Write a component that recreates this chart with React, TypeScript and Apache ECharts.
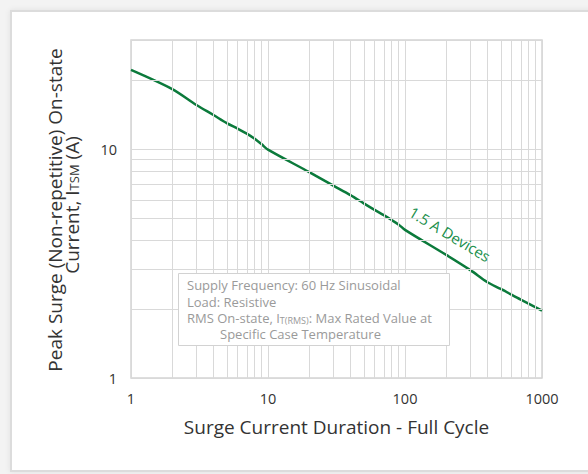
import React, { useEffect, useRef } from 'react';
import * as echarts from 'echarts';

const durationCycles = [1, 2, 3, 4, 5, 6, 7, 8, 9, 10, 20, 30, 40, 50, 60, 70, 80, 90, 100, 200, 300, 400, 500, 700, 1000];
const surgeCurrent = [22.2, 18.3, 15.6, 14.1, 13.0, 12.3, 11.7, 11.1, 10.5, 9.95, 7.94, 6.93, 6.3, 5.8, 5.43, 5.15, 4.9, 4.68, 4.44, 3.45, 2.96, 2.62, 2.45, 2.2, 1.97];
const xMinorGrid = [2, 3, 4, 5, 6, 7, 8, 9, 20, 30, 40, 50, 60, 70, 80, 90, 200, 300, 400, 500, 600, 700, 800, 900];
const yMinorGrid = [2, 3, 4, 5, 6, 7, 8, 9, 20];
const seriesLabel = '1.5 A Devices';
const xTitle = 'Surge Current Duration - Full Cycle';
const yTitleLines = ['Peak Surge (Non-repetitive) On-state', 'Current, I{sub|TSM} (A)'];
const noteLines = [
  'Supply Frequency: 60 Hz Sinusoidal',
  'Load: Resistive',
  'RMS On-state, I{sub|T(RMS)}: Max Rated Value at',
  'Specific Case Temperature',
];

const FONT = 'Open Sans';

const decadeFormatter = (v: number) => {
  const l = Math.log10(v);
  return Math.abs(l - Math.round(l)) < 1e-6 ? String(Math.round(v)) : '';
};

export default function App() {
  const ref = useRef<HTMLDivElement>(null);
  useEffect(() => {
    const chart = echarts.init(ref.current!, null, { renderer: 'svg' });
    const noteY = [285, 301.5, 318, 334];
    const noteX = [187, 187, 187, 220];
    const yTitleX = [55, 72];
    const yTitleY = [210, 205];
    chart.setOption({
      animation: false,
      textStyle: { fontFamily: FONT },
      grid: {
        left: 131,
        top: 40,
        right: 46,
        bottom: 96,
        show: true,
        borderColor: '#d4d4d4',
        borderWidth: 1.5,
        backgroundColor: 'transparent',
      },
      xAxis: {
        type: 'log',
        logBase: 10,
        min: 1,
        max: 1000,
        axisLine: { show: false },
        axisTick: { show: false },
        axisLabel: { fontSize: 14.5, color: '#333', margin: 13, formatter: decadeFormatter, fontFamily: FONT },
        splitLine: { show: true, lineStyle: { color: '#d9d9d9', width: 1 } },
        name: xTitle,
        nameLocation: 'middle',
        nameGap: 39,
        nameTextStyle: { fontSize: 19, color: '#333', fontFamily: FONT },
      },
      yAxis: {
        type: 'log',
        logBase: 10,
        min: 1,
        max: 30,
        axisLine: { show: false },
        axisTick: { show: false },
        axisLabel: { fontSize: 14.5, color: '#333', margin: 14, formatter: decadeFormatter, fontFamily: FONT },
        splitLine: { show: true, lineStyle: { color: '#d9d9d9', width: 1 } },
      },
      series: [
        {
          type: 'line',
          data: [],
          z: 1,
          silent: true,
          markLine: {
            silent: true,
            animation: false,
            symbol: ['none', 'none'],
            label: { show: false },
            emphasis: { disabled: true },
            lineStyle: { color: '#d9d9d9', width: 1, type: 'solid' },
            data: [
              ...xMinorGrid.map((v) => ({ xAxis: v })),
              ...yMinorGrid.map((v) => ({ yAxis: v })),
            ],
          },
        },
        {
          type: 'line',
          z: 3,
          data: durationCycles.map((x, i) => [x, surgeCurrent[i]]),
          smooth: 0.3,
          showSymbol: false,
          lineStyle: { color: '#0b7a3b', width: 2.5 },
        },
      ],
      graphic: [
        ...yTitleLines.map((t, i) => ({
          type: 'text',
          z: 11,
          x: yTitleX[i],
          y: yTitleY[i],
          rotation: Math.PI / 2,
          style: {
            text: t,
            fill: '#333',
            fontSize: 19,
            lineHeight: 16,
            fontFamily: FONT,
            align: 'center',
            verticalAlign: 'middle',
            rich: {
              sub: { fontSize: 13, lineHeight: 16, fill: '#333', fontFamily: FONT, verticalAlign: 'bottom', padding: [6, 0, 0, 0] },
            },
          },
        })),
        {
          type: 'rect',
          z: 10,
          shape: { x: 178.5, y: 273.5, width: 271, height: 72 },
          style: { fill: '#ffffff', stroke: '#d2d2d2', lineWidth: 1 },
        },
        ...noteLines.map((t, i) => ({
          type: 'text',
          z: 11,
          x: noteX[i],
          y: noteY[i],
          style: {
            text: t,
            fill: '#9a9a9a',
            fontSize: 13,
            lineHeight: 13,
            fontFamily: FONT,
            verticalAlign: 'middle',
            align: 'left',
            rich: {
              sub: { fontSize: 9, lineHeight: 9, fill: '#9a9a9a', fontFamily: FONT, verticalAlign: 'bottom' },
            },
          },
        })),
        {
          type: 'text',
          z: 11,
          x: 450,
          y: 234,
          rotation: (-31 * Math.PI) / 180,
          style: {
            text: seriesLabel,
            fill: '#1a8f4c',
            fontSize: 15,
            fontFamily: FONT,
            align: 'center',
            verticalAlign: 'middle',
          },
        },
      ],
    });
    return () => chart.dispose();
  }, []);
  return (
    <div style={{ position: 'fixed', left: 0, top: 0, width: 588, height: 474, background: '#f3f3f3', overflow: 'hidden' }}>
      <div
        style={{
          position: 'absolute',
          left: 10,
          top: 10,
          width: 600,
          height: 458,
          border: '2px solid #dcdcdc',
          background: '#fff',
          boxShadow: '0 0 6px rgba(0,0,0,0.08)',
        }}
      />
      <div ref={ref} style={{ position: 'absolute', left: 0, top: 0, width: 588, height: 474 }} />
    </div>
  );
}
